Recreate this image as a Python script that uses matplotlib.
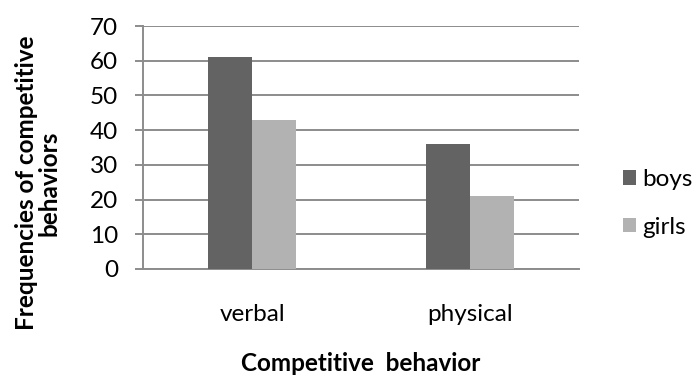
import numpy as np
import matplotlib.pyplot as plt

categories = ["verbal", "physical"]
boys = [61, 36]
girls = [43, 21]
y_ticks = [0, 10, 20, 30, 40, 50, 60, 70]

plt.rcParams["font.family"] = ["Lato", "DejaVu Sans"]
fs = 17.5

fig = plt.figure(figsize=(6.95, 3.77), dpi=100)
ax = fig.add_axes([0.2058, 0.2865, 0.6274, 0.6445])

x = np.arange(len(categories))
w = 0.2
ax.bar(x - w / 2, boys, w, color="#636363", label="boys", zorder=3)
ax.bar(x + w / 2, girls, w, color="#b2b2b2", label="girls", zorder=3)

ax.set_xlim(-0.5, 1.5)
ax.set_ylim(0, 70)
ax.set_yticks(y_ticks)
ax.set_xticks(x)
ax.set_xticklabels(categories)
ax.yaxis.grid(True, color="#8c8c8c", linewidth=1.4, zorder=0)

for side in ["top", "right"]:
    ax.spines[side].set_visible(False)
for side in ["left", "bottom"]:
    ax.spines[side].set_color("#8c8c8c")
    ax.spines[side].set_linewidth(1.4)

ax.tick_params(axis="y", length=6, width=1.4, color="#8c8c8c", pad=12, labelsize=fs)
ax.tick_params(axis="x", length=0, pad=25, labelsize=fs)

ax.set_xlabel("Competitive  behavior", fontsize=fs, fontweight="bold")
ax.xaxis.set_label_coords(0.5, -0.343)
ax.set_ylabel("Frequencies of competitive\nbehaviors", fontsize=fs, fontweight="bold",
              linespacing=1.0, va="center")
ax.yaxis.set_label_coords(-0.241, 0.354)

ax.legend(loc="center left", bbox_to_anchor=(1.1, 0.27), frameon=False, fontsize=fs,
          borderpad=0, borderaxespad=0,
          handlelength=0.55, handleheight=0.55, handletextpad=0.25, labelspacing=1.1)

fig.savefig("out.png", dpi=100)
